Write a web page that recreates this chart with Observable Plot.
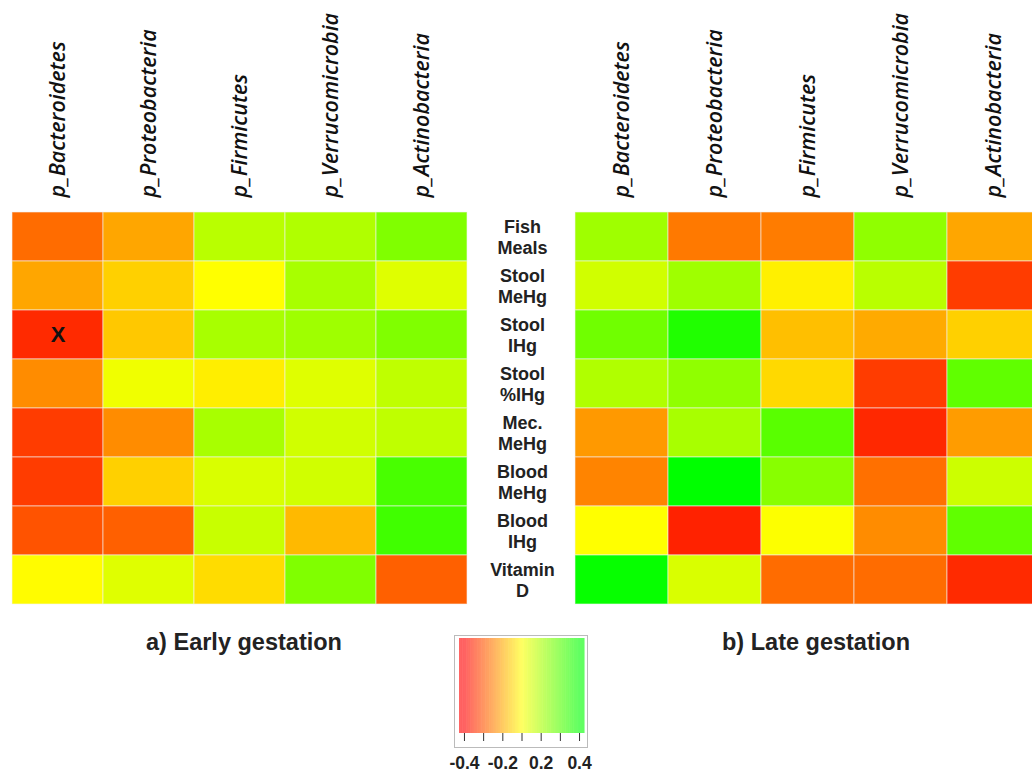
<!DOCTYPE html>
<html>
<head>
<meta charset="utf-8">
<script src="https://cdn.jsdelivr.net/npm/d3@7"></script>
<script src="https://cdn.jsdelivr.net/npm/@observablehq/plot@0.6"></script>
<style>
  html, body { margin: 0; padding: 0; background: #fff; }
  #wrap { position: relative; width: 1032px; height: 776px; overflow: hidden; font-family: "Liberation Sans", Arial, sans-serif; }
  #wrap > div.p { position: absolute; top: 0; }
  #wrap svg { max-width: none !important; }
  .cap { position: absolute; font-weight: bold; font-size: 23.5px; color: #222; white-space: nowrap; transform: translateX(-50%); }
</style>
</head>
<body>
<div id="wrap"></div>
<script>
const columns = ["p_Bacteroidetes", "p_Proteobacteria", "p_Firmicutes", "p_Verrucomicrobia", "p_Actinobacteria"];
const rows = ["Fish Meals", "Stool MeHg", "Stool IHg", "Stool %IHg", "Mec. MeHg", "Blood MeHg", "Blood IHg", "Vitamin D"];
const rowLabels = ["Fish\nMeals", "Stool\nMeHg", "Stool\nIHg", "Stool\n%IHg", "Mec.\nMeHg", "Blood\nMeHg", "Blood\nIHg", "Vitamin\nD"];

// correlation values, rows x columns
const early = [
  [-0.23, -0.14, 0.11, 0.124, 0.20],
  [-0.14, -0.074, 0.0, 0.136, 0.05],
  [-0.334, -0.086, 0.136, 0.15, 0.20],
  [-0.18, 0.024, -0.027, 0.05, 0.10],
  [-0.306, -0.18, 0.136, 0.074, 0.10],
  [-0.306, -0.074, 0.06, 0.074, 0.287],
  [-0.27, -0.25, 0.086, -0.11, 0.30],
  [-0.005, 0.05, -0.055, 0.20, -0.25]
];
const late = [
  [0.15, -0.21, -0.205, 0.174, -0.14],
  [0.074, 0.15, -0.024, 0.11, -0.306],
  [0.224, 0.35, -0.10, -0.133, -0.074],
  [0.124, 0.174, -0.06, -0.306, 0.25],
  [-0.16, 0.136, 0.26, -0.337, -0.155],
  [-0.193, 0.40, 0.187, -0.224, 0.08],
  [0.0, -0.347, 0.003, -0.18, 0.25],
  [0.39, 0.06, -0.23, -0.23, -0.334]
];
const flags = [{ stage: "early", row: "Stool IHg", column: "p_Bacteroidetes", label: "X" }];
const captions = ["a) Early gestation", "b) Late gestation"];
const legendTicks = [-0.4, -0.2667, -0.1333, 0, 0.1333, 0.2667, 0.4];
const legendTickLabels = ["-0.4", "", "-0.2", "", "0.2", "", "0.4"];

const colorOpts = { type: "linear", domain: [-0.4, 0, 0.4], range: ["#ff0000", "#ffff00", "#00ff00"], interpolate: "rgb", clamp: true };

function table(values, stage) {
  const out = [];
  rows.forEach((r, i) => columns.forEach((c, j) => out.push({ stage, row: r, column: c, value: values[i][j] })));
  return out;
}

const wrap = document.getElementById("wrap");
function place(node, left, top, width) {
  const d = document.createElement("div");
  d.className = "p";
  d.style.left = left + "px";
  d.style.top = top + "px";
  d.style.width = width + "px";
  d.appendChild(node);
  wrap.appendChild(d);
}

function heat(values, stage, opts) {
  const data = table(values, stage);
  const marks = [
    Plot.cell(data, { x: "column", y: "row", fill: "value", stroke: "#f4f4f4", strokeOpacity: 0.6, strokeWidth: 1, inset: 0 }),
    Plot.axisX({ anchor: "top", tickRotate: -90, tickSize: 0, tickPadding: 13, fontSize: 21.5, fontStyle: "italic", fontWeight: 600, fontFamily: "Open Sans", fill: "#111", label: null }),
    Plot.text(flags.filter(f => f.stage === stage), { x: "column", y: "row", text: "label", fontSize: 22, fontWeight: "bold", fill: "#111" })
  ];
  if (opts.labels) {
    marks.push(Plot.text(rows, { y: d => d, text: (d, i) => rowLabels[i], frameAnchor: "left", dx: -53, textAnchor: "middle", fontSize: 18, fontWeight: "bold", lineHeight: 1.12, fill: "#222", fontFamily: "Liberation Sans" }));
  }
  return Plot.plot({
    width: opts.width,
    height: 776,
    marginLeft: opts.marginLeft,
    marginRight: opts.marginRight,
    marginTop: 210,
    marginBottom: 171,
    x: { domain: columns, padding: 0, axis: null },
    y: { domain: rows, padding: 0, axis: null },
    color: colorOpts,
    style: { fontFamily: "Liberation Sans", background: "transparent", overflow: "visible" },
    marks
  });
}

place(heat(early, "early", { width: 470, marginLeft: 10, marginRight: 1, labels: false }), 0, 0, 470);
place(heat(late, "late", { width: 571, marginLeft: 106, marginRight: 0, labels: true }), 469, 0, 571);

// legend
const ramp = d3.range(-0.4345, 0.4345, 0.004);
const legend = Plot.plot({
  width: 150,
  height: 156,
  marginLeft: 19,
  marginRight: 6,
  marginTop: 18,
  marginBottom: 43,
  x: { domain: [-0.4345, 0.4345], axis: null },
  color: colorOpts,
  style: { fontFamily: "Liberation Sans", background: "transparent", overflow: "visible" },
  marks: [
    Plot.frame({ stroke: "#bbb", insetLeft: -5, insetRight: -3, insetTop: -3, insetBottom: -14 }),
    Plot.rect(ramp, { x1: d => d, x2: d => d + 0.0045, fill: d => d, fillOpacity: 0.68 }),
    Plot.axisX({ anchor: "bottom", ticks: legendTicks, tickFormat: (d, i) => legendTickLabels[i], tickSize: 8, tickPadding: 15, fontSize: 17.5, fontWeight: "bold", stroke: "#333", fill: "#222", label: null })
  ]
});
place(legend, 440, 620, 150);

[[captions[0], 244], [captions[1], 816]].forEach(([t, x]) => {
  const c = document.createElement("div");
  c.className = "cap";
  c.textContent = t;
  c.style.left = x + "px";
  c.style.top = "629px";
  wrap.appendChild(c);
});
</script>
</body>
</html>
